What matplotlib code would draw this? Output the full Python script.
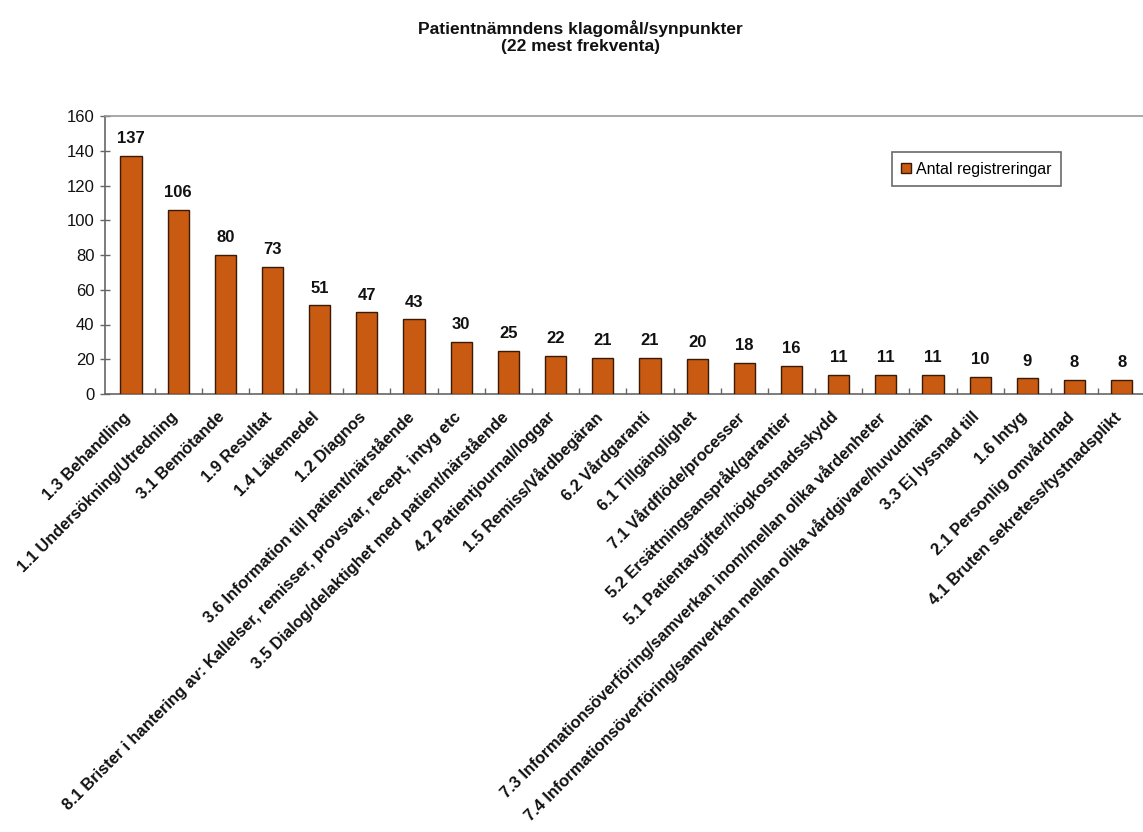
import matplotlib.pyplot as plt
import matplotlib.patches as mpatches
import matplotlib.transforms as mtransforms
import numpy as np

# ── Data ────────────────────────────────────────────────────────────────────
CATEGORIES = [
    "1.3 Behandling",
    "1.1 Undersökning/Utredning",
    "3.1 Bemötande",
    "1.9 Resultat",
    "1.4 Läkemedel",
    "1.2 Diagnos",
    "3.6 Information till patient/närstående",
    "8.1 Brister i hantering av: Kallelser, remisser, provsvar, recept, intyg etc",
    "3.5 Dialog/delaktighet med patient/närstående",
    "4.2 Patientjournal/loggar",
    "1.5 Remiss/Vårdbegäran",
    "6.2 Vårdgaranti",
    "6.1 Tillgänglighet",
    "7.1 Vårdflöde/processer",
    "5.2 Ersättningsanspråk/garantier",
    "5.1 Patientavgifter/högkostnadsskydd",
    "7.3 Informationsöverföring/samverkan inom/mellan olika vårdenheter",
    "7.4 Informationsöverföring/samverkan mellan olika vårdgivare/huvudmän",
    "3.3 Ej lyssnad till",
    "1.6 Intyg",
    "2.1 Personlig omvårdnad",
    "4.1 Bruten sekretess/tystnadsplikt",
]
COUNTS = [137, 106, 80, 73, 51, 47, 43, 30, 25, 22, 21, 21, 20, 18, 16, 11, 11, 11, 10, 9, 8, 8]
Y_TICKS = [0, 20, 40, 60, 80, 100, 120, 140, 160]

TITLE = "Patientnämndens klagomål/synpunkter\n(22 mest frekventa)"
LEGEND_LABEL = "Antal registreringar"

# ── Style ───────────────────────────────────────────────────────────────────
BAR_COLOR = "#C85A12"
BAR_EDGE  = "#3A1A05"
AXIS_GRAY = "#666666"
TEXT      = "#111111"

plt.rcParams["font.family"] = ["Liberation Sans", "DejaVu Sans"]

fig = plt.figure(figsize=(11.43, 8.32), dpi=100)
ax = fig.add_axes([105 / 1143, 1 - 394 / 832, 1038 / 1143, 278 / 832])

x = np.arange(len(CATEGORIES))
bars = ax.bar(x, COUNTS, width=0.45, color=BAR_COLOR, edgecolor=BAR_EDGE, linewidth=1.0,
              label=LEGEND_LABEL, zorder=3)

for xi, v in zip(x, COUNTS):
    ax.annotate(str(v), (xi, v), textcoords="offset points", xytext=(0, 7),
                ha="center", va="bottom", fontsize=12, fontweight="bold", color=TEXT)

ax.set_xlim(-0.55, len(CATEGORIES) - 0.55)
ax.set_ylim(0, 160)
ax.set_yticks(Y_TICKS)
ax.tick_params(axis="y", direction="inout", length=7, width=1, colors=AXIS_GRAY,
               labelcolor=TEXT, labelsize=12, pad=4)

ax.set_xticks(x)
ax.set_xticklabels(CATEGORIES, rotation=45, ha="right", va="center",
                   rotation_mode="anchor", fontsize=11.8, fontweight="bold", color=TEXT)
ax.tick_params(axis="x", length=0, pad=15)
ax.set_xticks(x[:-1] + 0.5, minor=True)
ax.tick_params(axis="x", which="minor", direction="in", length=4, width=1, colors=AXIS_GRAY)

# nudge tick labels so their ends sit just right of the bar centres
offset = mtransforms.ScaledTranslation(-2 / 72, 0, fig.dpi_scale_trans)
for lab in ax.get_xticklabels():
    lab.set_transform(lab.get_transform() + offset)

ax.spines["right"].set_visible(False)
ax.spines["top"].set_color("#999999")
ax.spines["left"].set_color(AXIS_GRAY)
ax.spines["bottom"].set_color(AXIS_GRAY)
for s in ["top", "left", "bottom"]:
    ax.spines[s].set_linewidth(1.2)

handle = mpatches.Patch(facecolor=BAR_COLOR, edgecolor=BAR_EDGE, label=LEGEND_LABEL)
leg = ax.legend(handles=[handle], loc="upper left", bbox_to_anchor=(0.758, 0.870),
                fontsize=11.5, frameon=True, fancybox=False, handlelength=0.6,
                handleheight=0.6, handletextpad=0.3, borderpad=0.6, borderaxespad=0)
leg.get_frame().set_edgecolor("#444444")
leg.get_frame().set_linewidth(1.2)

fig.text(0.508, 1 - 37 / 832, TITLE, ha="center", va="center", fontsize=12.5,
         fontweight="bold", color=TEXT, linespacing=1.15)

fig.savefig("out.png", dpi=100, facecolor="white")
